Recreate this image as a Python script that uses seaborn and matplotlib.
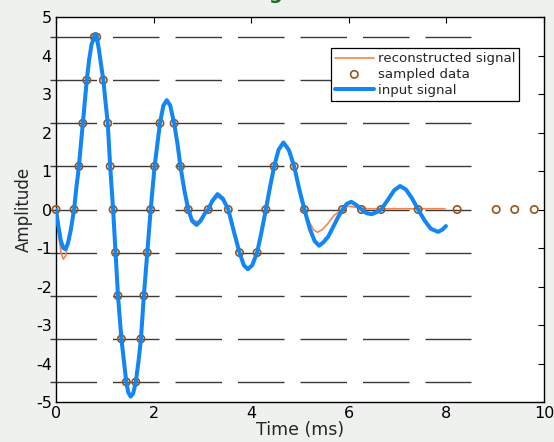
import matplotlib
matplotlib.use("Agg")
import matplotlib.pyplot as plt
import seaborn as sns
import pandas as pd

# Input signal (time in ms, amplitude)
input_t = [0.00, 0.05, 0.10, 0.15, 0.19, 0.24, 0.30, 0.37, 0.42, 0.47, 0.51, 0.55,
           0.59, 0.63, 0.68, 0.73, 0.785, 0.81, 0.834, 0.88, 0.93, 0.97, 1.01, 1.06,
           1.11, 1.17, 1.22, 1.27, 1.34, 1.44, 1.48, 1.53, 1.58, 1.635, 1.69, 1.74,
           1.80, 1.87, 1.94, 2.02, 2.13, 2.20, 2.27, 2.34, 2.42, 2.49, 2.55, 2.63,
           2.71, 2.79, 2.88, 2.96, 3.05, 3.12, 3.20, 3.31, 3.42, 3.53, 3.64, 3.76,
           3.85, 3.93, 4.02, 4.12, 4.20, 4.30, 4.38, 4.47, 4.56, 4.66, 4.77, 4.88,
           4.98, 5.09, 5.20, 5.30, 5.39, 5.48, 5.58, 5.68, 5.78, 5.87, 5.96, 6.05,
           6.15, 6.26, 6.37, 6.47, 6.57, 6.66, 6.80, 6.93, 7.05, 7.17, 7.30, 7.42,
           7.55, 7.68, 7.83, 7.92, 7.99]
input_y = [0.00, -0.45, -0.82, -1.00, -1.03, -0.90, -0.55, 0.00, 0.60, 1.12, 1.70, 2.24,
           2.80, 3.36, 3.90, 4.30, 4.48, 4.56, 4.48, 4.15, 3.70, 3.36, 2.85, 2.24,
           1.12, 0.00, -1.12, -2.24, -3.36, -4.48, -4.75, -4.86, -4.78, -4.48, -3.95, -3.36,
           -2.24, -1.12, 0.00, 1.12, 2.24, 2.70, 2.84, 2.70, 2.24, 1.70, 1.12, 0.50,
           0.00, -0.30, -0.40, -0.30, -0.10, 0.00, 0.22, 0.40, 0.28, 0.00, -0.55, -1.12,
           -1.45, -1.55, -1.45, -1.12, -0.65, 0.00, 0.55, 1.12, 1.55, 1.74, 1.55, 1.12,
           0.55, 0.00, -0.50, -0.82, -0.94, -0.85, -0.70, -0.45, -0.20, 0.00, 0.15, 0.20,
           0.12, 0.00, -0.10, -0.12, -0.07, 0.00, 0.25, 0.50, 0.61, 0.52, 0.28, 0.00,
           -0.28, -0.50, -0.58, -0.52, -0.43]

# Reconstructed signal
recon_t = [0.00, 0.05, 0.10, 0.15, 0.20, 0.26, 0.32, 0.37, 0.42, 0.47, 0.51, 0.55,
           0.59, 0.63, 0.68, 0.73, 0.785, 0.81, 0.834, 0.88, 0.93, 0.97, 1.01, 1.06,
           1.11, 1.17, 1.22, 1.27, 1.34, 1.44, 1.48, 1.53, 1.58, 1.635, 1.69, 1.74,
           1.80, 1.87, 1.94, 2.02, 2.13, 2.20, 2.27, 2.34, 2.42, 2.49, 2.55, 2.63,
           2.71, 2.79, 2.90, 2.98, 3.05, 3.12, 3.20, 3.31, 3.42, 3.53, 3.64, 3.76,
           3.85, 3.93, 4.02, 4.12, 4.20, 4.30, 4.38, 4.47, 4.56, 4.66, 4.77, 4.88,
           4.98, 5.09, 5.20, 5.28, 5.36, 5.46, 5.58, 5.70, 5.87, 5.96, 6.05, 6.20,
           6.40, 6.66, 7.00, 7.42, 7.70, 7.97]
recon_y = [0.00, -0.60, -1.10, -1.29, -1.20, -0.80, -0.35, 0.00, 0.60, 1.12, 1.70, 2.24,
           2.80, 3.36, 3.90, 4.30, 4.48, 4.56, 4.48, 4.15, 3.70, 3.36, 2.85, 2.24,
           1.12, 0.00, -1.12, -2.24, -3.36, -4.48, -4.75, -4.86, -4.78, -4.48, -3.95, -3.36,
           -2.24, -1.12, 0.00, 1.12, 2.24, 2.70, 2.84, 2.70, 2.24, 1.70, 1.12, 0.50,
           0.00, -0.25, -0.32, -0.22, -0.08, 0.00, 0.18, 0.33, 0.23, 0.00, -0.55, -1.12,
           -1.45, -1.55, -1.45, -1.12, -0.65, 0.00, 0.55, 1.12, 1.55, 1.74, 1.55, 1.12,
           0.55, 0.00, -0.35, -0.53, -0.59, -0.52, -0.35, -0.15, 0.00, 0.08, 0.08, 0.04,
           0.02, 0.02, 0.02, 0.02, 0.02, 0.02]

# Level-crossing samples
sample_t = [0.00, 0.37, 0.47, 0.55, 0.63, 0.785, 0.834, 0.97, 1.06, 1.11, 1.17, 1.22,
            1.27, 1.34, 1.44, 1.635, 1.74, 1.80, 1.87, 1.94, 2.02, 2.13, 2.42, 2.55,
            2.71, 3.12, 3.53, 3.76, 4.12, 4.30, 4.47, 4.88, 5.09, 5.87, 6.26, 6.66,
            7.42, 8.22, 9.02, 9.40, 9.80]
sample_y = [0.00, 0.00, 1.12, 2.24, 3.36, 4.48, 4.48, 3.36, 2.24, 1.12, 0.00, -1.12,
            -2.24, -3.36, -4.48, -4.48, -3.36, -2.24, -1.12, 0.00, 1.12, 2.24, 2.24, 1.12,
            0.00, 0.00, 0.00, -1.12, -1.12, 0.00, 1.12, 1.12, 0.00, 0.00, 0.00, 0.00,
            0.00, 0.00, 0.00, 0.00, 0.00]

# Quantisation levels
levels = [-4.48, -3.36, -2.24, -1.12, 0.00, 1.12, 2.24, 3.36, 4.48]

x_ticks = [0, 2, 4, 6, 8, 10]
y_ticks = [-5, -4, -3, -2, -1, 0, 1, 2, 3, 4, 5]

sns.set_style("white")
plt.rcParams["font.family"] = ["DejaVu Sans"]
plt.rcParams["axes.unicode_minus"] = False

fig = plt.figure(figsize=(5.54, 4.42), dpi=100, facecolor="#eef1ee")
ax = fig.add_axes([0.1011, 0.0905, 0.8809, 0.871])
ax.set_facecolor("white")

# dashed level lines
ax.hlines(levels, -0.12, 8.5, colors="#3a3a3a", linewidth=1.0,
          linestyles=[(0, (33.5, 11.5))], clip_on=False, zorder=1)

recon_df = pd.DataFrame({"t": recon_t, "y": recon_y})
input_df = pd.DataFrame({"t": input_t, "y": input_y})
sample_df = pd.DataFrame({"t": sample_t, "y": sample_y})

sns.lineplot(data=recon_df, x="t", y="y", ax=ax, sort=False, color="#f7844d",
             linewidth=1.2, label="reconstructed signal", zorder=2)
sns.scatterplot(data=sample_df, x="t", y="y", ax=ax, marker="o", s=28,
                facecolors="none", edgecolor="#9a5418", linewidth=1.2,
                label="sampled data", zorder=3, clip_on=False)
sns.lineplot(data=input_df, x="t", y="y", ax=ax, sort=False, color="#1286f2",
             linewidth=2.9, label="input signal", zorder=4)

ax.set_xlim(0, 10)
ax.set_ylim(-5, 5)
ax.set_xticks(x_ticks)
ax.set_yticks(y_ticks)
ax.set_xticklabels([str(v) for v in x_ticks])
ax.set_yticklabels([str(v) for v in y_ticks])
ax.tick_params(direction="in", length=4, width=0.8, top=True, right=True,
               labelsize=11.5, colors="black", pad=3)
for s in ax.spines.values():
    s.set_visible(True)
    s.set_color("black")
    s.set_linewidth(1.0)

ax.set_xlabel("Time (ms)", fontsize=12.5, labelpad=0)
ax.set_ylabel("Amplitude", fontsize=12, labelpad=2)

# legend order: reconstructed, sampled, input
handles, labels = ax.get_legend_handles_labels()
order = [labels.index(n) for n in ["reconstructed signal", "sampled data", "input signal"]]
leg = ax.legend([handles[i] for i in order], [labels[i] for i in order],
                loc="upper right", bbox_to_anchor=(0.949, 0.919), fontsize=9.6,
                frameon=True, fancybox=False, framealpha=1, edgecolor="black",
                handlelength=2.9, handletextpad=0.3, borderpad=0.3,
                labelspacing=0.2, borderaxespad=0)
leg.get_frame().set_linewidth(0.9)

# descender of the slide title cut off at the top edge
fig.text(0.484, 1.0 + 1.0 / 442, "g", color="#1a6b1a", fontsize=14, fontweight="bold",
         ha="left", va="baseline")

fig.savefig("out.png", dpi=100, facecolor=fig.get_facecolor())
